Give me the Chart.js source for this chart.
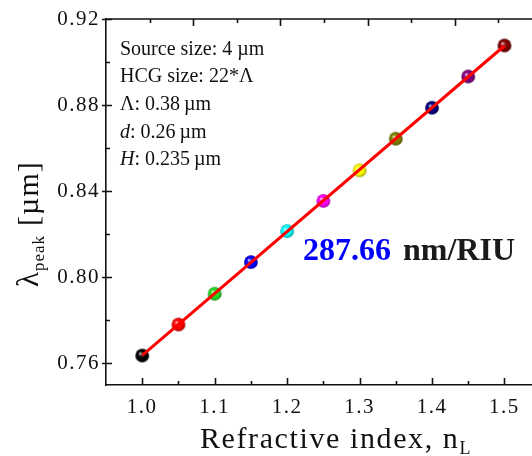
<!DOCTYPE html>
<html>
<head>
<meta charset="utf-8">
<script src="https://cdn.jsdelivr.net/npm/chart.js@4"></script>
<style>
  html, body { margin: 0; padding: 0; background: #ffffff; }
  #wrap { width: 532px; height: 456px; }
</style>
</head>
<body>
<div id="wrap"><canvas id="sensChart" width="532" height="456"></canvas></div>
<script>
// Peak wavelength vs. cladding refractive index
const nL = [1.00, 1.05, 1.10, 1.15, 1.20, 1.25, 1.30, 1.35, 1.40, 1.45, 1.50];
const lambdaPeak = [0.7637, 0.7781, 0.7924, 0.8071, 0.8215, 0.8355, 0.8497, 0.8644, 0.8788, 0.8933, 0.9077];
const ballColors = ['#000000', '#ff0000', '#22dd22', '#0000ff', '#00ffff', '#ff00ff',
                    '#ffff00', '#808000', '#000080', '#800080', '#800000'];

// linear fit, slope 287.66 nm/RIU
const fitN = [1.00, 1.50];
const fitLambda = [0.76375, 0.90758];

const xTicks = [1.0, 1.1, 1.2, 1.3, 1.4, 1.5];
const xMinorTicks = [1.05, 1.15, 1.25, 1.35, 1.45];
const yTicks = [0.76, 0.80, 0.84, 0.88, 0.92];
const yMinorTicks = [0.78, 0.82, 0.86, 0.90];
const topTicks = [1, 2, 3, 4, 5, 6, 7, 8, 9];

const SERIF = "'Liberation Serif', 'Times New Roman', serif";

// shaded ball marker
function makeBall(color) {
    const s = 16, r = 6.8;
    const c = document.createElement('canvas');
    c.width = s; c.height = s;
    const g = c.getContext('2d');
    g.beginPath();
    g.arc(s / 2, s / 2, r, 0, Math.PI * 2);
    g.fillStyle = color;
    g.fill();
    const grd = g.createRadialGradient(s / 2 - 2.2, s / 2 - 2.2, 0, s / 2, s / 2, r);
    grd.addColorStop(0, 'rgba(255,255,255,0.95)');
    grd.addColorStop(0.3, 'rgba(255,255,255,0.15)');
    grd.addColorStop(0.7, 'rgba(0,0,0,0)');
    grd.addColorStop(1, 'rgba(0,0,0,0.4)');
    g.fillStyle = grd;
    g.fill();
    return c;
}

const frameTicks = {
    id: 'frameTicks',
    beforeDraw(chart) {
        chart.ctx.letterSpacing = '1.5px';
    },
    afterDatasetsDraw(chart) {
        const { ctx, chartArea: a, scales } = chart;
        ctx.save();
        ctx.letterSpacing = '0px';
        ctx.strokeStyle = '#111111';
        ctx.lineWidth = 1.6;
        ctx.beginPath();
        // top frame line
        ctx.moveTo(a.left, a.top);
        ctx.lineTo(a.right, a.top);
        xTicks.forEach(v => {
            const px = Math.round(scales.x.getPixelForValue(v)) + 0.5;
            ctx.moveTo(px, a.bottom); ctx.lineTo(px, a.bottom - 7);
        });
        xMinorTicks.forEach(v => {
            const px = Math.round(scales.x.getPixelForValue(v)) + 0.5;
            ctx.moveTo(px, a.bottom); ctx.lineTo(px, a.bottom - 4);
        });
        yTicks.forEach(v => {
            const py = Math.round(scales.y.getPixelForValue(v)) + 0.5;
            ctx.moveTo(a.left - 4, py); ctx.lineTo(a.left + 6, py);
        });
        yMinorTicks.forEach(v => {
            const py = Math.round(scales.y.getPixelForValue(v)) + 0.5;
            ctx.moveTo(a.left, py); ctx.lineTo(a.left + 4, py);
        });
        topTicks.forEach(k => {
            const px = Math.round(scales.x2.getPixelForValue(k)) + 0.5;
            ctx.moveTo(px, a.top); ctx.lineTo(px, a.top + (k % 2 === 0 ? 7 : 4));
        });
        ctx.stroke();
        ctx.restore();
    },
    afterDraw(chart) {
        const ctx = chart.ctx;
        ctx.save();
        ctx.letterSpacing = '0px';
        ctx.fillStyle = '#111111';
        ctx.textBaseline = 'alphabetic';
        ctx.textAlign = 'left';

        // parameter box
        const rows = [
            [['Source size: 4 \u00b5m', '']],
            [['HCG size: 22*\u039b', '']],
            [['\u039b: 0.38\u2009\u00b5m', '']],
            [['d', 'italic '], [': 0.26\u2009\u00b5m', '']],
            [['H', 'italic '], [': 0.235\u2009\u00b5m', '']]
        ];
        const baselines = [55, 82, 110, 138, 165];
        rows.forEach((row, i) => {
            let x = 120;
            row.forEach(([txt, style]) => {
                ctx.font = style + '20px ' + SERIF;
                ctx.fillText(txt, x, baselines[i]);
                x += ctx.measureText(txt).width;
            });
        });

        // sensitivity label
        ctx.font = 'bold 32px ' + SERIF;
        ctx.fillStyle = '#0000ff';
        ctx.fillText('287.66', 303, 260);
        ctx.fillStyle = '#1a1a1a';
        ctx.fillText('nm/RIU', 403, 260);

        // x title with subscript
        ctx.fillStyle = '#111111';
        ctx.letterSpacing = '1.6px';
        ctx.font = '30px ' + SERIF;
        const xt = 'Refractive index, n';
        ctx.fillText(xt, 200, 448);
        let xe = 200 + ctx.measureText(xt).width;
        ctx.font = '18px ' + SERIF;
        ctx.fillText('L', xe, 454);

        // y title, rotated, with subscript
        ctx.translate(38, 287);
        ctx.rotate(-Math.PI / 2);
        ctx.letterSpacing = '1px';
        ctx.font = '31px ' + SERIF;
        ctx.fillText('\u03bb', 0, 0);
        let yx = ctx.measureText('\u03bb').width;
        ctx.font = '17px ' + SERIF;
        ctx.fillText('peak', yx, 6);
        yx += ctx.measureText('peak').width + 9;
        ctx.font = '30px ' + SERIF;
        ctx.fillText('[\u00b5m]', yx, 0);
        ctx.restore();
    }
};

new Chart(document.getElementById('sensChart'), {
    type: 'scatter',
    data: {
        datasets: [
            {
                label: 'fit',
                data: fitN.map((x, i) => ({ x, y: fitLambda[i] })),
                showLine: true,
                borderColor: '#ff0000',
                borderWidth: 3,
                pointRadius: 0,
                order: 0
            },
            {
                label: 'lambda peak',
                data: nL.map((x, i) => ({ x, y: lambdaPeak[i] })),
                pointStyle: ballColors.map(makeBall),
                showLine: false,
                order: 1
            }
        ]
    },
    options: {
        responsive: false,
        animation: false,
        devicePixelRatio: 1,
        layout: { autoPadding: false, padding: { top: 19, right: 0, left: 0, bottom: 0 } },
        plugins: {
            legend: { display: false },
            tooltip: { enabled: false }
        },
        scales: {
            x: {
                type: 'linear',
                position: 'bottom',
                min: 0.95,
                max: 1.538,
                afterFit: s => { s.height = 71; s.paddingRight = 0; s.paddingLeft = 0; },
                afterBuildTicks: s => { s.ticks = xTicks.map(v => ({ value: v })); },
                grid: { display: false, drawTicks: false },
                border: { display: true, color: '#111111', width: 1.6 },
                ticks: {
                    padding: 10,
                    color: '#111111',
                    font: { family: SERIF, size: 21 },
                    maxRotation: 0,
                    callback: v => v.toFixed(1)
                }
            },
            x2: {
                type: 'linear',
                position: 'top',
                display: false,
                min: 0,
                max: 9.77,
                afterFit: s => { s.height = 0; s.paddingRight = 0; s.paddingLeft = 0; }
            },
            y: {
                min: 0.75,
                max: 0.92,
                afterFit: s => { s.width = 106; s.paddingTop = 0; s.paddingBottom = 0; },
                afterBuildTicks: s => { s.ticks = yTicks.map(v => ({ value: v })); },
                grid: { display: false, drawTicks: false },
                border: { display: true, color: '#111111', width: 1.6 },
                ticks: {
                    padding: 6,
                    color: '#111111',
                    font: { family: SERIF, size: 21 },
                    callback: v => v.toFixed(2)
                }
            }
        }
    },
    plugins: [frameTicks]
});
</script>
</body>
</html>
